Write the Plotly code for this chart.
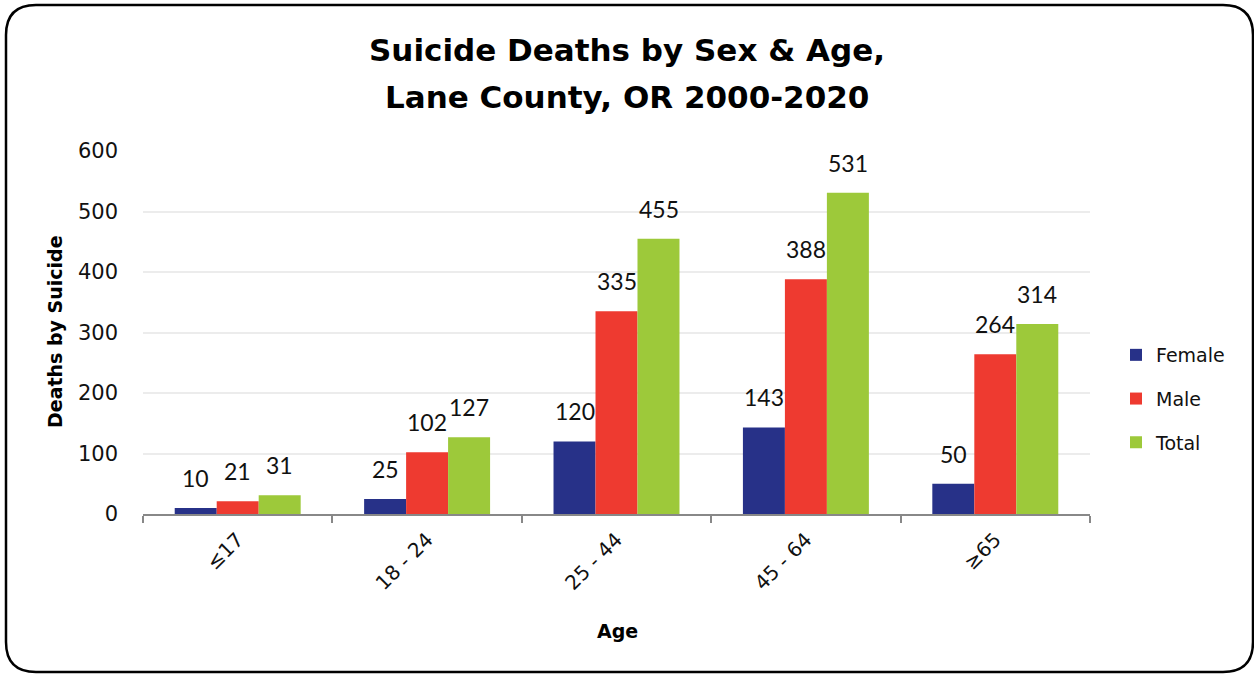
import plotly.graph_objects as go

# Suicide deaths by sex and age group, Lane County OR, 2000-2020
age_groups = ["≤17", "18 - 24", "25 - 44", "45 - 64", "≥65"]
female = [10, 25, 120, 143, 50]
male = [21, 102, 335, 388, 264]
total = [31, 127, 455, 531, 314]

series = [
    ("Female", female, "#273188"),
    ("Male", male, "#EE3A30"),
    ("Total", total, "#9DC93A"),
]
title_lines = ["Suicide Deaths by Sex & Age,", "Lane County, OR 2000-2020"]

W, H = 1254, 674
L, R, T, B = 143, 1090, 151, 514  # plot area in pixels
BAR_PX = 42  # width of one bar in pixels (for label offsets)

def px(x):
    return (x - L) / (R - L)

def py(y):
    return (B - y) / (B - T)

BOLD = "DejaVu Sans, sans-serif"
fig = go.Figure()
annotations = []
for i, (name, vals, color) in enumerate(series):
    fig.add_trace(go.Bar(
        x=age_groups, y=vals, name=name, legendgroup=name,
        marker=dict(color=color, line=dict(width=0)),
    ))
    # value labels floating above each bar
    for cat, v in zip(age_groups, vals):
        annotations.append(dict(
            x=cat, y=v, xref="x", yref="y", text=str(v), showarrow=False,
            xanchor="center", yanchor="bottom", xshift=(i - 1) * BAR_PX, yshift=14,
            font=dict(family="Lato, Open Sans, sans-serif", size=23, color="#111"),
        ))

for k, (line, cy) in enumerate(zip(title_lines, [50, 97])):
    annotations.append(dict(
        x=(627 - L) / (R - L), y=py(cy), xref="paper", yref="paper", text=line,
        showarrow=False, xanchor="center", yanchor="middle",
        font=dict(family=BOLD, size=31, weight=700, color="#000"),
    ))

annotations.append(dict(
    x=px(55), y=py(332), xref="paper", yref="paper", text="Deaths by Suicide",
    textangle=-90, showarrow=False, xanchor="center", yanchor="middle",
    font=dict(family=BOLD, size=19, weight=700, color="#000"),
))
annotations.append(dict(
    x=px(617), y=py(631), xref="paper", yref="paper", text="Age",
    showarrow=False, xanchor="center", yanchor="middle",
    font=dict(family=BOLD, size=19, weight=700, color="#000"),
))

# rounded outer frame
x0, x1, y0, y1, r = 6, 1253, 5, 672, 30
path = (
    f"M {px(x0)} {py(y0 + r)} "
    f"Q {px(x0)} {py(y0)} {px(x0 + r)} {py(y0)} "
    f"L {px(x1 - r)} {py(y0)} "
    f"Q {px(x1)} {py(y0)} {px(x1)} {py(y0 + r)} "
    f"L {px(x1)} {py(y1 - r)} "
    f"Q {px(x1)} {py(y1)} {px(x1 - r)} {py(y1)} "
    f"L {px(x0 + r)} {py(y1)} "
    f"Q {px(x0)} {py(y1)} {px(x0)} {py(y1 - r)} Z"
)

fig.update_layout(
    width=W, height=H,
    margin=dict(l=L, r=W - R, t=T, b=H - B, autoexpand=False),
    paper_bgcolor="white", plot_bgcolor="white",
    barmode="group", bargap=0.335, bargroupgap=0,
    font=dict(family="DejaVu Sans, sans-serif", color="#111"),
    xaxis=dict(
        type="category", tickangle=-45, tickson="boundaries",
        ticks="outside", ticklen=7, tickwidth=2, tickcolor="#888",
        showline=True, linecolor="#888", linewidth=2, ticklabelstandoff=4,
        tickfont=dict(size=20, color="#111"),
    ),
    yaxis=dict(
        range=[0, 600], dtick=100, showgrid=True, gridcolor="#ececec", gridwidth=1.5,
        zeroline=False, showline=False, ticks="", ticklabelstandoff=24,
        tickfont=dict(size=21, color="#111"),
    ),
    legend=dict(
        x=px(1116), y=py(336), xanchor="left", yanchor="top",
        font=dict(size=19, color="#111"), tracegroupgap=16,
        itemwidth=30, bgcolor="rgba(0,0,0,0)",
    ),
    annotations=annotations,
    shapes=[dict(type="path", xref="paper", yref="paper", path=path,
                 line=dict(color="#000", width=2.5), layer="above")],
)

fig.write_html("out.html")
